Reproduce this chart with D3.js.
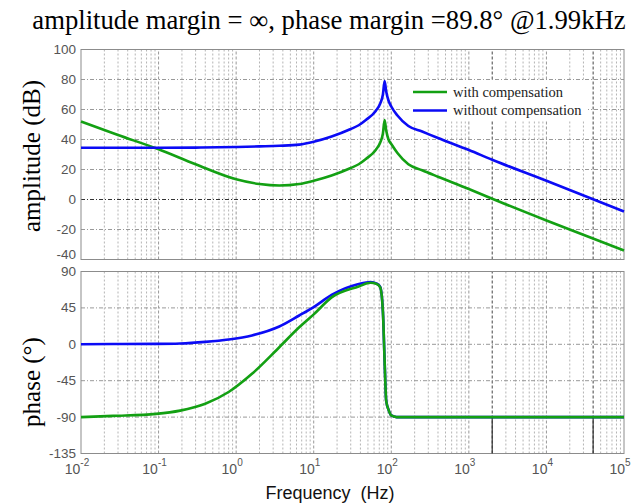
<!DOCTYPE html>
<html>
<head>
<meta charset="utf-8">
<script src="https://cdn.jsdelivr.net/npm/d3@7"></script>
<style>
  body { margin: 0; background: #fff; }
</style>
</head>
<body>
<div class="bode"></div>
<script>
'use strict';

// values (frequency in Hz)
var ampFreq = [0.01, 0.03, 0.1, 0.3, 1, 2, 3.6, 6.5, 10, 17, 30, 38, 47, 63, 72, 78, 82, 86, 92, 100, 120, 166, 250, 400, 1000, 2000, 10000, 100000];
var ampWith = [52, 43, 33.5, 23.5, 13.5, 10.3, 9.3, 10.3, 12.5, 16, 21, 23.5, 27, 33, 38, 44, 53, 46, 40, 37, 31, 23.5, 19.5, 15.2, 7, 0.5, -14, -34];
var ampWithout = [34.5, 34.5, 34.5, 34.6, 35, 35.4, 35.8, 36.6, 38.5, 42, 47, 49.5, 53, 59, 64, 70, 79, 72, 66, 62, 56, 49, 45.3, 41, 33, 26.5, 12.5, -8];

var phaseFreq = [0.01, 0.026, 0.093, 0.19, 0.4, 0.8, 1.6, 3.6, 6.5, 10, 17, 38, 54, 65, 72, 78, 82, 86, 93, 100, 117, 100000];
var phaseWith = [-90, -88.5, -86, -82, -73.5, -59, -36.5, -3.6, 21, 37, 58, 71.5, 76, 74.5, 70.5, 40, -20, -70, -82, -88, -90, -90];
var phaseWithout = [0, 0.3, 0.5, 1, 3, 6, 11, 22, 35.6, 46, 61, 74.5, 77, 75, 71, 40, -20, -70, -82, -88, -90, -90];

var ampTicks = [-40, -20, 0, 20, 40, 60, 80, 100];
var phaseTicks = [-135, -90, -45, 0, 45, 90];
var decades = [-2, -1, 0, 1, 2, 3, 4, 5];
var darkFreqs = [2000, 40000];

var seriesNames = ["with compensation", "without compensation"];
var seriesColors = ["#13a013", "#0b0bf5"];

var width = 634, height = 504;
var left = 81, right = 624;

var svg = d3.select(".bode")
            .append("svg")
            .attr("width", width)
            .attr("height", height);

var x = d3.scaleLog().domain([1e-2, 1e5]).range([left, right]);
var yAmp = d3.scaleLinear().domain([-40, 100]).range([259.5, 49.5]);
var yPhase = d3.scaleLinear().domain([-135, 90]).range([453.5, 271.5]);

// minor + major frequencies for the vertical grid
var minorFreqs = [];
decades.slice(0, -1).forEach(function(k){
      for (var m = 2; m < 10; m++) minorFreqs.push(m * Math.pow(10, k));
});
var majorFreqs = decades.map(function(k){ return Math.pow(10, k); });

function drawPanel(y, ticks, zeroDark){
      var g = svg.append("g");
      var y0 = y.range()[0], y1 = y.range()[1];

      // vertical grid
      g.selectAll("line.minor")
       .data(minorFreqs.filter(function(f){ return darkFreqs.indexOf(f) < 0; }))
       .enter().append("line")
       .attr("x1", function(d){ return x(d); }).attr("x2", function(d){ return x(d); })
       .attr("y1", y0).attr("y2", y1)
       .attr("stroke", "#b4b4b4").attr("stroke-width", 1)
       .attr("stroke-dasharray", "2,2");

      g.selectAll("line.major")
       .data(majorFreqs.slice(1, -1))
       .enter().append("line")
       .attr("x1", function(d){ return x(d); }).attr("x2", function(d){ return x(d); })
       .attr("y1", y0).attr("y2", y1)
       .attr("stroke", "#999").attr("stroke-width", 1)
       .attr("stroke-dasharray", "3,2");

      g.selectAll("line.dark")
       .data(darkFreqs)
       .enter().append("line")
       .attr("x1", function(d){ return x(d); }).attr("x2", function(d){ return x(d); })
       .attr("y1", y0).attr("y2", y1)
       .attr("stroke", "#444").attr("stroke-width", 1)
       .attr("stroke-dasharray", "3,2");

      // horizontal grid
      g.selectAll("line.h")
       .data(ticks.slice(1, -1))
       .enter().append("line")
       .attr("x1", left).attr("x2", right)
       .attr("y1", function(d){ return y(d); }).attr("y2", function(d){ return y(d); })
       .attr("stroke", function(d){ return (zeroDark && d === 0) ? "#333" : "#999"; })
       .attr("stroke-width", 1)
       .attr("stroke-dasharray", "4,2,1,2");

      // frame
      g.append("rect")
       .attr("x", left).attr("y", y1)
       .attr("width", right - left).attr("height", y0 - y1)
       .attr("fill", "none").attr("stroke", "#8c8c8c").attr("stroke-width", 1);

      // y tick labels (the lowest amplitude label sits a little higher, as in the original)
      g.selectAll("text.tick")
       .data(ticks)
       .enter().append("text")
       .attr("x", left - 5)
       .attr("y", function(d){ return y(d) + 4.5 - (zeroDark && d === ticks[0] ? 5 : 0); })
       .attr("text-anchor", "end")
       .attr("font-family", "Liberation Sans, Arial, sans-serif")
       .attr("font-size", 13.5)
       .attr("fill", "#555")
       .text(function(d){ return d; });
      return g;
}

drawPanel(yAmp, ampTicks, true);
var phasePanel = drawPanel(yPhase, phaseTicks, false);

// the dark markers are solid below -90 in the phase panel
phasePanel.selectAll("line.darksolid")
          .data(darkFreqs)
          .enter().append("line")
          .attr("x1", function(d){ return x(d); }).attr("x2", function(d){ return x(d); })
          .attr("y1", yPhase(-90)).attr("y2", yPhase(-135))
          .attr("stroke", "#333").attr("stroke-width", 1.2);

// curves
function curve(freq, vals, y, color){
      var line = d3.line()
                   .x(function(d){ return x(d[0]); })
                   .y(function(d){ return y(d[1]); })
                   .curve(d3.curveMonotoneX);
      svg.append("path")
         .attr("d", line(d3.zip(freq, vals)))
         .attr("fill", "none")
         .attr("stroke", color)
         .attr("stroke-width", 2.6)
         .attr("stroke-linejoin", "round");
}

curve(ampFreq, ampWith, yAmp, seriesColors[0]);
curve(ampFreq, ampWithout, yAmp, seriesColors[1]);
curve(phaseFreq, phaseWithout, yPhase, seriesColors[1]);
curve(phaseFreq, phaseWith, yPhase, seriesColors[0]);

// legend (white box, no border)
var legend = svg.append("g");
legend.append("rect")
      .attr("x", 410).attr("y", 81).attr("width", 178).attr("height", 39)
      .attr("fill", "#fff");
seriesNames.forEach(function(name, i){
      var ly = 92 + i * 18.5;
      legend.append("line")
            .attr("x1", 413).attr("x2", 447)
            .attr("y1", ly).attr("y2", ly)
            .attr("stroke", seriesColors[i]).attr("stroke-width", 2.4);
      legend.append("text")
            .attr("x", 453).attr("y", ly + 4.5)
            .attr("font-family", "Liberation Serif, Times New Roman, serif")
            .attr("font-size", 14.5)
            .attr("fill", "#222")
            .text(name);
});

// x tick labels 10^k
var xt = svg.selectAll("text.xt")
            .data(decades)
            .enter().append("text")
            .attr("x", function(d){ return x(Math.pow(10, d)) - 4; })
            .attr("y", 474)
            .attr("text-anchor", "middle")
            .attr("font-family", "Liberation Sans, Arial, sans-serif")
            .attr("font-size", 14)
            .attr("fill", "#555");
xt.append("tspan").text("10");
xt.append("tspan").attr("dy", -8).attr("font-size", 10).text(function(d){ return d; });

// axis titles
svg.append("text")
   .attr("x", 330).attr("y", 499)
   .attr("text-anchor", "middle")
   .attr("font-family", "Liberation Sans, Arial, sans-serif")
   .attr("font-size", 18)
   .attr("fill", "#111")
   .attr("xml:space", "preserve")
   .text("Frequency  (Hz)");

svg.append("text")
   .attr("transform", "translate(40,156) rotate(-90)")
   .attr("text-anchor", "middle")
   .attr("font-family", "Liberation Serif, Times New Roman, serif")
   .attr("font-size", 25)
   .text("amplitude (dB)");

svg.append("text")
   .attr("transform", "translate(40,382) rotate(-90)")
   .attr("text-anchor", "middle")
   .attr("font-family", "Liberation Serif, Times New Roman, serif")
   .attr("font-size", 25)
   .text("phase (°)");

// title
svg.append("text")
   .attr("x", 329).attr("y", 29)
   .attr("text-anchor", "middle")
   .attr("font-family", "Liberation Serif, Times New Roman, serif")
   .attr("font-size", 26.7)
   .text("amplitude margin = ∞, phase margin =89.8° @1.99kHz");
</script>
</body>
</html>
